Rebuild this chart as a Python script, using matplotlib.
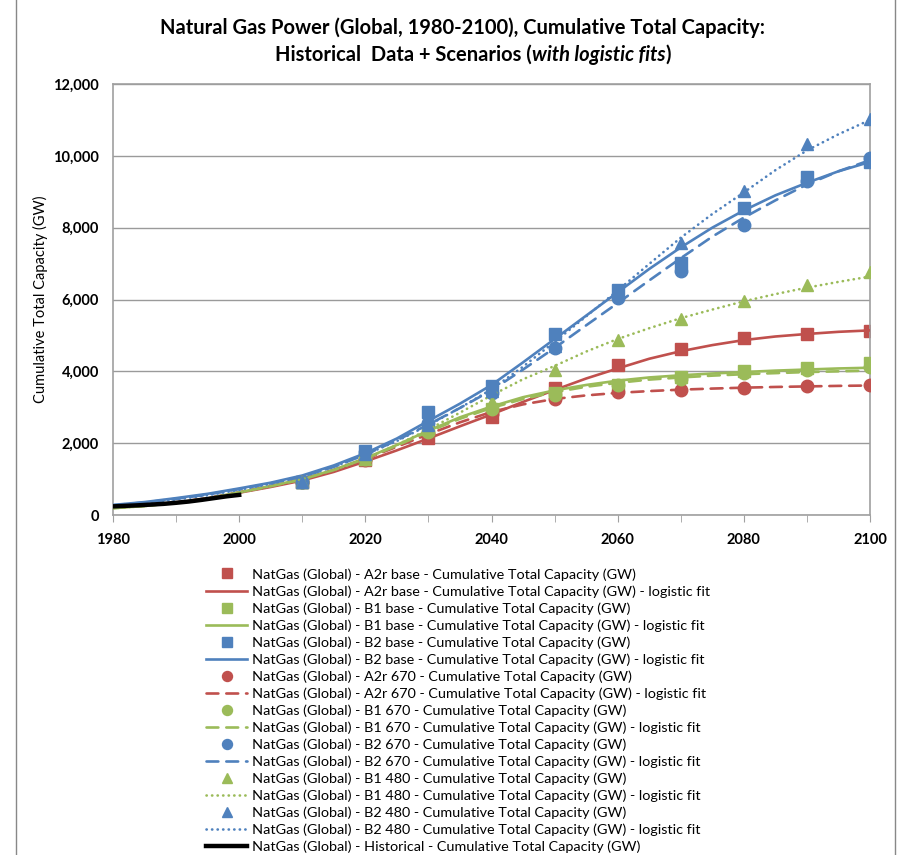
import matplotlib
matplotlib.use("Agg")
import matplotlib.pyplot as plt
from matplotlib.lines import Line2D
from matplotlib.ticker import FuncFormatter, MultipleLocator

plt.rcParams['font.family'] = ['Lato', 'DejaVu Sans']

# --- data ---------------------------------------------------------------
fit_years = list(range(1980, 2101, 5))
pt_years = list(range(2010, 2101, 10))
hist_years = list(range(1980, 2001, 2))

# scenario points (GW)
a2r_base = [930, 1540, 2140, 2720, 3540, 4170, 4620, 4940, 5040, 5120]
b1_base = [920, 1560, 2340, 2950, 3400, 3620, 3830, 4020, 4090, 4220]
b2_base = [930, 1780, 2870, 3580, 5030, 6260, 7020, 8550, 9400, 9830]
a2r_670 = [930, 1540, 2250, 2800, 3220, 3420, 3470, 3545, 3580, 3630]
b1_670 = [920, 1550, 2300, 2950, 3350, 3620, 3780, 3950, 4040, 4110]
b2_670 = [930, 1750, 2550, 3400, 4650, 6050, 6780, 8080, 9300, 9950]
b1_480 = [920, 1560, 2400, 3150, 4050, 4860, 5470, 5970, 6410, 6770]
b2_480 = [930, 1700, 2500, 3450, 4700, 6150, 7570, 9010, 10320, 11030]

# logistic fits every 5 years (GW)
a2r_base_fit = [200, 260, 340, 460, 620, 780, 960, 1200, 1490, 1800, 2130, 2470, 2800,
                3150, 3480, 3800, 4080, 4350, 4560, 4730, 4870, 4970, 5040, 5100, 5140]
b1_base_fit = [190, 250, 340, 460, 630, 810, 1000, 1260, 1580, 1950, 2350, 2720, 3020,
               3280, 3470, 3620, 3740, 3830, 3890, 3940, 3980, 4020, 4050, 4080, 4100]
b2_base_fit = [280, 360, 470, 590, 740, 900, 1100, 1380, 1720, 2130, 2620, 3100, 3620,
               4250, 4900, 5550, 6200, 6850, 7450, 8000, 8480, 8900, 9250, 9570, 9830]
a2r_670_fit = [200, 265, 350, 470, 630, 800, 990, 1250, 1560, 1900, 2250, 2580, 2870,
               3080, 3230, 3330, 3400, 3450, 3490, 3520, 3545, 3565, 3580, 3595, 3605]
b1_670_fit = [190, 250, 340, 460, 630, 800, 990, 1250, 1570, 1930, 2320, 2680, 2980,
              3230, 3420, 3570, 3680, 3770, 3830, 3880, 3920, 3950, 3980, 4000, 4020]
b2_670_fit = [270, 350, 450, 570, 720, 880, 1070, 1340, 1680, 2080, 2520, 2980, 3470,
              4050, 4650, 5280, 5900, 6530, 7150, 7750, 8280, 8760, 9200, 9570, 9880]
b1_480_fit = [190, 250, 340, 460, 630, 800, 1000, 1250, 1570, 1950, 2380, 2850, 3330,
              3780, 4150, 4550, 4900, 5200, 5480, 5720, 5950, 6150, 6330, 6490, 6640]
b2_480_fit = [260, 340, 430, 550, 700, 870, 1070, 1340, 1680, 2060, 2500, 2980, 3500,
              4130, 4820, 5530, 6250, 6990, 7720, 8380, 8980, 9600, 10150, 10600, 11000]

historical = [240, 255, 270, 290, 310, 340, 375, 420, 470, 520, 560]

RED = '#C0504D'
GREEN = '#9BBB59'
BLUE = '#4F81BD'
DASH = (0, (4.5, 3))
DOT = (0, (0.1, 2.0))

series = [
    ('A2r base', a2r_base, a2r_base_fit, RED, 's', '-'),
    ('B1 base', b1_base, b1_base_fit, GREEN, 's', '-'),
    ('B2 base', b2_base, b2_base_fit, BLUE, 's', '-'),
    ('A2r 670', a2r_670, a2r_670_fit, RED, 'o', DASH),
    ('B1 670', b1_670, b1_670_fit, GREEN, 'o', DASH),
    ('B2 670', b2_670, b2_670_fit, BLUE, 'o', DASH),
    ('B1 480', b1_480, b1_480_fit, GREEN, '^', DOT),
    ('B2 480', b2_480, b2_480_fit, BLUE, '^', DOT),
]

# --- figure -------------------------------------------------------------
fig = plt.figure(figsize=(8.97, 8.55), dpi=100)
ax = fig.add_axes([113 / 897, 1 - 515 / 855, (870 - 113) / 897, (515 - 84) / 855])

z = 2
for name, pts, fit, col, mk, ls in series:
    base = 'NatGas (Global) - %s - Cumulative Total Capacity (GW)' % name
    ax.plot(pt_years, pts, linestyle='none', marker=mk, ms=9, color=col,
            label=base, zorder=z)
    ax.plot(fit_years, fit, linestyle=ls, lw=1.9, color=col,
            dash_capstyle='round', label=base + ' - logistic fit', zorder=z + 1)
    z += 2

ax.plot(hist_years, historical, color='black', lw=3.2,
        label='NatGas (Global) - Historical - Cumulative Total Capacity (GW)', zorder=z)

ax.set_xlim(1980, 2100)
ax.set_ylim(0, 12000)
ax.xaxis.set_major_locator(MultipleLocator(20))
ax.xaxis.set_minor_locator(MultipleLocator(10))
ax.yaxis.set_major_locator(MultipleLocator(2000))
ax.yaxis.set_major_formatter(FuncFormatter(lambda v, p: '{:,.0f}'.format(v)))
ax.grid(axis='y', color='#9A9A9A', lw=1)
ax.set_axisbelow(True)
for s in ax.spines.values():
    s.set_color('#A0A0A0')
    s.set_linewidth(1.2)
ax.tick_params(axis='x', which='both', direction='out', length=5, color='#A0A0A0',
               labelsize=10.5, pad=8)
ax.tick_params(axis='y', length=0, labelsize=10.5, pad=10)
for lab in ax.get_xticklabels() + ax.get_yticklabels():
    lab.set_fontweight('bold')
ax.set_ylabel('Cumulative Total Capacity (GW)', fontsize=10.5, labelpad=4)

# title, second line has an italic part
fig.text(462 / 897, 1 - 28 / 855, 'Natural Gas Power (Global, 1980-2100), Cumulative Total Capacity:',
         ha='center', va='center', fontsize=14.5, fontweight='bold')
parts = [('Historical  Data + Scenarios (', 'normal'), ('with logistic fits', 'italic'),
         (')', 'normal')]
texts = [fig.text(0, 1 - 55 / 855, t, ha='left', va='center', fontsize=14.5,
                  fontweight='bold', style=st) for t, st in parts]
fig.canvas.draw()
r = fig.canvas.get_renderer()
widths = [t.get_window_extent(r).width for t in texts]
x0 = 473 - sum(widths) / 2
for t, w in zip(texts, widths):
    t.set_x(x0 / 897)
    x0 += w

fig.legend(loc='upper left', bbox_to_anchor=(206 / 897, 1 - 568 / 855), frameon=False,
           fontsize=10.4, handlelength=2.85, handletextpad=0.3, labelspacing=0.31,
           borderpad=0, borderaxespad=0, markerscale=0.8)

# outer chart border
for xb in (16, 895):
    fig.add_artist(Line2D([xb / 897, xb / 897], [0, 1], color='#888888', lw=1))

fig.savefig('out.png', dpi=100)
